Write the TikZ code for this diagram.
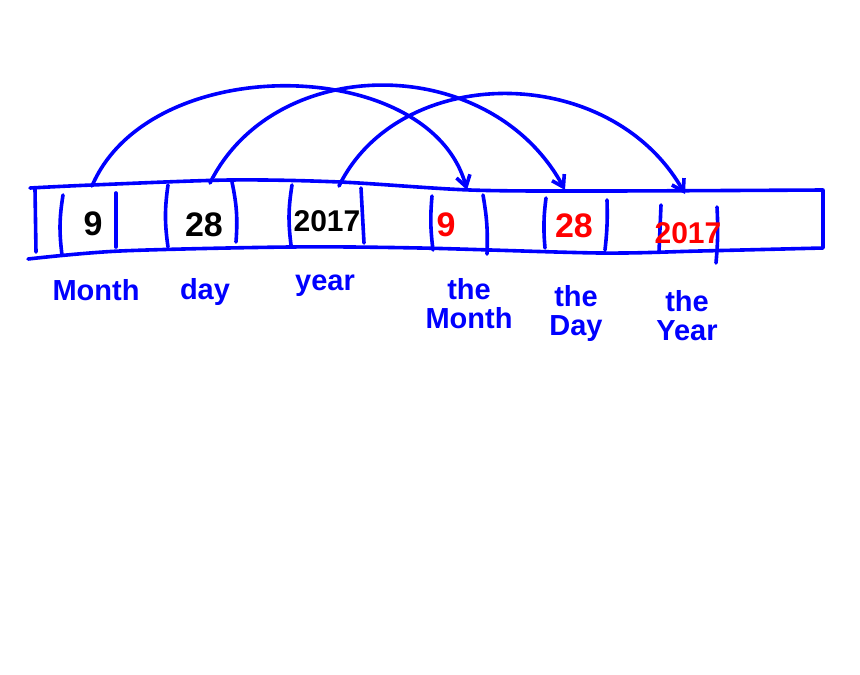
\documentclass[tikz,border=0pt]{standalone}
\usepackage{fontspec}
\setmainfont{Liberation Sans}
\usetikzlibrary{arrows.meta}
\definecolor{ink}{RGB}{0,0,255}
\definecolor{redink}{RGB}{255,0,0}
\begin{document}
\begin{tikzpicture}[x=1pt,y=-1pt,
  pen/.style={draw=ink,line width=3.6pt,line cap=round,line join=round},
  bar/.style={pen},
  arc/.style={pen,-{Straight Barb[length=11pt,width=14pt]}},
  digit/.style={font=\fontsize{34}{36}\selectfont\bfseries,inner sep=0pt},
  year/.style={font=\fontsize{30}{32}\selectfont\bfseries,inner sep=0pt},
  lbl/.style={font=\fontsize{29}{29}\selectfont\bfseries,text=ink,align=center,inner sep=0pt}]
\useasboundingbox (0,0) rectangle (860,675);
% strip
\draw[pen] plot[smooth] coordinates {(30,188) (92,185) (230,180) (340,182) (470,190) (600,191) (823,190)} -- (823,248)
  plot[smooth] coordinates {(823,248) (700,251) (600,253) (420,248) (290,247) (120,251) (28,259)};
\draw[bar] (35,189) -- (36,252);
% cell brackets
\draw[bar] (63,195) to[bend right=8] (62,255);
\draw[bar] (116,193) -- (116,247);
\draw[bar] (168,185) to[bend right=8] (168,247);
\draw[bar] (232,182) to[bend left=8] (236,242);
\draw[bar] (292,185) to[bend right=8] (291,245);
\draw[bar] (361,188) -- (364,243);
\draw[bar] (432,196) to[bend right=6] (433,250);
\draw[bar] (483,195) to[bend left=6] (487,254);
\draw[bar] (546,198) to[bend right=6] (545,248);
\draw[bar] (607,200) to[bend left=4] (605,250);
\draw[bar] (661,205) -- (659,252);
\draw[bar] (717,207) to[bend left=4] (716,263);
% digits
\node[digit] (d1) at (93,224) {9};
\node[digit] (d2) at (204,225) {28};
\node[year] (d3) at (327,221) {2017};
\node[digit,text=redink] (d4) at (446,225) {9};
\node[digit,text=redink] (d5) at (574,226) {28};
\node[year,text=redink] (d6) at (688,233) {2017};
% labels
\node[lbl] (l1) at (96,290) {Month};
\node[lbl] (l2) at (205,292) {day};
\node[lbl] (l3) at (325,286) {year};
\node[lbl] (l4) at (469,304) {the\\Month};
\node[lbl] (l5) at (576,313) {the\\Day};
\node[lbl] (l6) at (687,316) {the\\Year};
% arrow ends
\coordinate (s1) at (92,186);
\coordinate (e1) at (467,190);
\coordinate (s2) at (210,183);
\coordinate (e2) at (565,190);
\coordinate (s3) at (339,186);
\coordinate (e3) at (685,194);
\draw[arc] (s1) .. controls (150,50) and (430,55) .. (e1);
\draw[arc] (s2) .. controls (275,52) and (490,52) .. (e2);
\draw[arc] (s3) .. controls (400,62) and (610,62) .. (e3);
\end{tikzpicture}
\end{document}
